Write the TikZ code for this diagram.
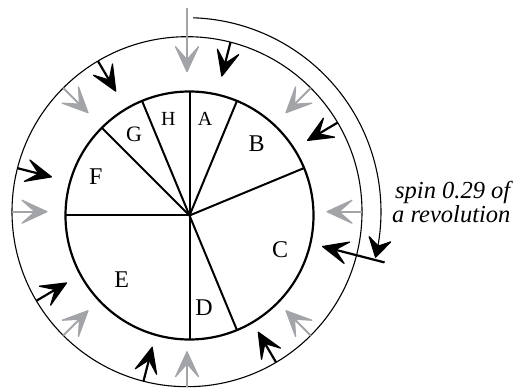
\documentclass[tikz,border=0pt]{standalone}
\usepackage{fontspec}
\setmainfont{Liberation Serif}
\definecolor{arrgray}{RGB}{162,164,167}
\begin{document}
\begin{tikzpicture}[x=1pt,y=1pt,
  outerring/.style={line width=1.1pt},
  innerring/.style={line width=2.2pt},
  spoke/.style={line width=2pt},
  grayshaft/.style={draw=arrgray, line width=2pt},
  blackshaft/.style={draw=black, line width=2.2pt},
  grayhead/.style={fill=arrgray, draw=arrgray, line width=1.2pt, line join=round},
  blackhead/.style={fill=black, draw=black, line width=1.2pt, line join=round},
  spinarc/.style={line width=1.1pt},
  seglabel/.style={font=\fontsize{24}{24}\selectfont, anchor=base, inner sep=0pt},
  smalllabel/.style={font=\fontsize{20}{20}\selectfont, anchor=base, inner sep=0pt},
  midlabel/.style={font=\fontsize{22}{22}\selectfont, anchor=base, inner sep=0pt},
  spinlabel/.style={font=\fontsize{24.5}{24.5}\selectfont\itshape, anchor=base west, inner sep=0pt}]
\useasboundingbox (0,0) rectangle (516,388);
\coordinate (O) at (187,176.3);
\coordinate (I) at (189.5,172.5);
% rings
\draw[outerring] (O) circle[radius=175];
\draw[innerring] (I) circle[radius=124];
% spokes
\foreach \a [count=\i] in {90,67.5,22.5,-67.5,-90,180,135,112.5}{
  \coordinate (s\i) at ([shift={(\a:124)}]I);
  \draw[spoke] (I) -- (s\i);
}
% gray arrows
\foreach \a/\r [count=\i] in {0/175,45/175,90/204,135/175,180/175,225/175,270/175,315/175}{
  \coordinate (gt\i) at ([shift={(\a:\r)}]O);
  \coordinate (gh\i) at ([shift={(\a:140)}]O);
  \coordinate (gn\i) at ([shift={(\a:152)}]O);
  \draw[grayshaft] (gt\i) -- (gn\i);
  \path[grayhead, shift={(gh\i)}, rotate=\a] (0,0) -- (25,11.5) -- (12,0) -- (25,-11.5) -- cycle;
}
% black arrows (gray pattern turned by 0.29 of a revolution)
\foreach \a/\r [count=\i] in {75.6/175,30.6/175,-14.4/204,-59.4/175,-104.4/175,210.6/175,165.6/175,120.6/175}{
  \coordinate (bt\i) at ([shift={(\a:\r)}]O);
  \coordinate (bh\i) at ([shift={(\a:140)}]O);
  \coordinate (bn\i) at ([shift={(\a:153)}]O);
  \draw[blackshaft] (bt\i) -- (bn\i);
  \path[blackhead, shift={(bh\i)}, rotate=\a] (0,0) -- (25,11) -- (13,0) -- (25,-11) -- cycle;
}
% spin arc
\coordinate (spinstart) at ([shift={(88.2:194)}]O);
\coordinate (spinend) at ([shift={(-13.6:194)}]O);
\draw[spinarc] (spinstart) arc[start angle=88.2, end angle=-10.3, radius=194];
\path[blackhead, shift={(spinend)}, rotate=76.4] (0,0) -- (18.5,11) -- (11.5,0) -- (18.5,-11) -- cycle;
% segment labels
\node[smalllabel] (A) at (205,262.7) {A};
\node[smalllabel] (H) at (168.3,262.7) {H};
\node[midlabel] (G) at (134,246.3) {G};
\node[seglabel] (F) at (95.7,203) {F};
\node[seglabel] (B) at (256.7,236) {B};
\node[seglabel] (C) at (280,130) {C};
\node[seglabel] (D) at (204,73) {D};
\node[seglabel] (E) at (121.7,100) {E};
% spin text
\node[spinlabel] (spin1) at (395,189) {spin 0.29 of};
\node[spinlabel] (spin2) at (392,165) {a revolution};
\end{tikzpicture}
\end{document}
